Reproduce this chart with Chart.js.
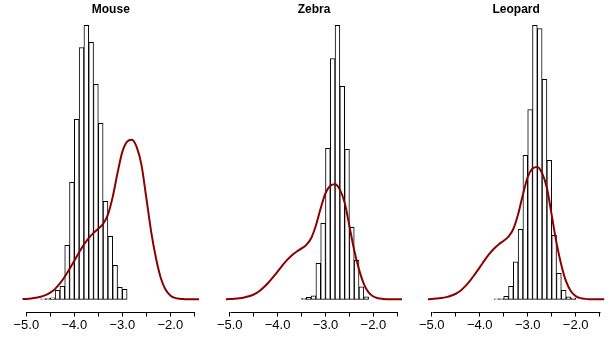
<!DOCTYPE html>
<html>
<head>
<meta charset="utf-8">
<script src="https://cdn.jsdelivr.net/npm/chart.js@4"></script>
<style>
  body { margin: 0; background: #fff; }
  #wrap { position: relative; width: 610px; height: 341px; }
  canvas { position: absolute; top: 0; }
</style>
</head>
<body>
<div id="wrap">
  <canvas id="mouse" width="205" height="341" style="left:0px"></canvas>
  <canvas id="zebra" width="203" height="341" style="left:205px"></canvas>
  <canvas id="leopard" width="202" height="341" style="left:408px"></canvas>
</div>
<script>
//Axis ticks (labels only on whole numbers):
const xTicks = [-5.0, -4.5, -4.0, -3.5, -3.0, -2.5, -2.0, -1.5];

//Density curve (same in every panel):
const curveX = [-5.1, -5.0, -4.9, -4.8, -4.7, -4.6, -4.5, -4.4, -4.3, -4.2, -4.1, -4.0, -3.9, -3.8, -3.7, -3.6, -3.5, -3.4, -3.3, -3.2,
                -3.1, -3.0, -2.9, -2.8, -2.7, -2.6, -2.5, -2.4, -2.3, -2.2, -2.1, -2.0, -1.9, -1.8, -1.7, -1.6, -1.5, -1.4];
const curveY = [0.001, 0.002, 0.005, 0.009, 0.015, 0.024, 0.038, 0.059, 0.090, 0.128, 0.172, 0.218, 0.266, 0.310, 0.347, 0.376, 0.400, 0.428, 0.480, 0.580,
                0.715, 0.835, 0.893, 0.904, 0.862, 0.760, 0.575, 0.385, 0.235, 0.122, 0.055, 0.022, 0.008, 0.003, 0.001, 0.000, 0.000, 0.000];

//Histograms (bin midpoints, bin width 0.1, density):
const mouseBins = [-4.65, -4.55, -4.45, -4.35, -4.25, -4.15, -4.05, -3.95, -3.85, -3.75, -3.65, -3.55, -3.45, -3.35, -3.25, -3.15, -3.05, -2.95];
const mouseDensity = [0.003, 0.004, 0.008, 0.051, 0.074, 0.306, 0.662, 1.019, 1.426, 1.551, 1.455, 1.217, 0.996, 0.555, 0.357, 0.192, 0.068, 0.057];

const zebraBins = [-3.45, -3.35, -3.25, -3.15, -3.05, -2.95, -2.85, -2.75, -2.65, -2.55, -2.45, -2.35, -2.25, -2.15];
const zebraDensity = [0.008, 0.016, 0.027, 0.283, 0.597, 1.186, 1.892, 2.152, 1.673, 1.178, 0.565, 0.306, 0.098, 0.020];

const leopardBins = [-3.65, -3.55, -3.45, -3.35, -3.25, -3.15, -3.05, -2.95, -2.85, -2.75, -2.65, -2.55, -2.45, -2.35, -2.25, -2.15, -2.05];
const leopardDensity = [0.003, 0.005, 0.020, 0.089, 0.256, 0.478, 0.983, 1.296, 1.870, 1.849, 1.501, 0.948, 0.437, 0.177, 0.061, 0.017, 0.008];

Chart.defaults.font.family = "'Liberation Sans', Arial, Helvetica, sans-serif";
Chart.defaults.color = '#000';

//Axis line only from first to last tick, like R:
const axisLine = {
    id: 'axisLine',
    afterDraw(chart) {
        const sc = chart.scales.x;
        const ctx = chart.ctx;
        const y = Math.round(sc.top) + 0.5;
        ctx.save();
        ctx.strokeStyle = '#000';
        ctx.lineWidth = 1;
        ctx.beginPath();
        ctx.moveTo(Math.round(sc.getPixelForValue(xTicks[0])) + 0.5, y);
        ctx.lineTo(Math.round(sc.getPixelForValue(xTicks[xTicks.length - 1])) + 0.5, y);
        ctx.stroke();
        ctx.restore();
    }
};

function makePanel(id, title, bins, density, padLeft, padRight) {
    const top = Math.max(...density);

    new Chart(document.getElementById(id), {
        type: 'bar',
        data: {
            datasets: [
                {
                    type: 'line',
                    data: curveX.map((x, i) => ({x, y: curveY[i]})),
                    borderColor: '#8b0000',
                    borderWidth: 2,
                    pointRadius: 0,
                    cubicInterpolationMode: 'monotone',
                    fill: false,
                    order: 0
                },
                {
                    type: 'bar',
                    data: bins.map((x, i) => ({x, y: density[i]})),
                    backgroundColor: '#fff',
                    borderColor: '#000',
                    borderWidth: 1,
                    borderSkipped: false,
                    barPercentage: 1,
                    categoryPercentage: 1,
                    order: 1
                }
            ]
        },
        options: {
            responsive: false,
            animation: false,
            events: [],
            layout: { padding: { left: padLeft, right: padRight, top: 0, bottom: 6.9 } },
            plugins: {
                legend: { display: false },
                tooltip: { enabled: false },
                title: {
                    display: true,
                    text: title,
                    color: '#000',
                    font: { size: 12, weight: 'bold' },
                    padding: { top: 2.5, bottom: 0 }
                }
            },
            scales: {
                x: {
                    type: 'linear',
                    min: -5.08,
                    max: -1.4,
                    offset: false,
                    bounds: 'data',
                    border: { display: false },
                    grid: { drawOnChartArea: false, drawTicks: true, tickLength: 5, tickColor: '#000', offset: false },
                    afterBuildTicks: sc => { sc.ticks = xTicks.map(v => ({value: v})); },
                    ticks: {
                        autoSkip: false,
                        maxRotation: 0,
                        padding: 1,
                        color: '#000',
                        font: { size: 13 },
                        callback: v => Number.isInteger(v) ? '\u2212' + Math.abs(v).toFixed(1) : ''
                    }
                },
                y: { display: false, min: -0.0445 * top, max: 1.031 * top }
            }
        },
        plugins: [axisLine]
    });
}

makePanel('mouse', 'Mouse', mouseBins, mouseDensity, 22.5, 5.9);
makePanel('zebra', 'Zebra', zebraBins, zebraDensity, 20.9, 5.9);
makePanel('leopard', 'Leopard', leopardBins, leopardDensity, 19.9, 5.5);
</script>
</body>
</html>
